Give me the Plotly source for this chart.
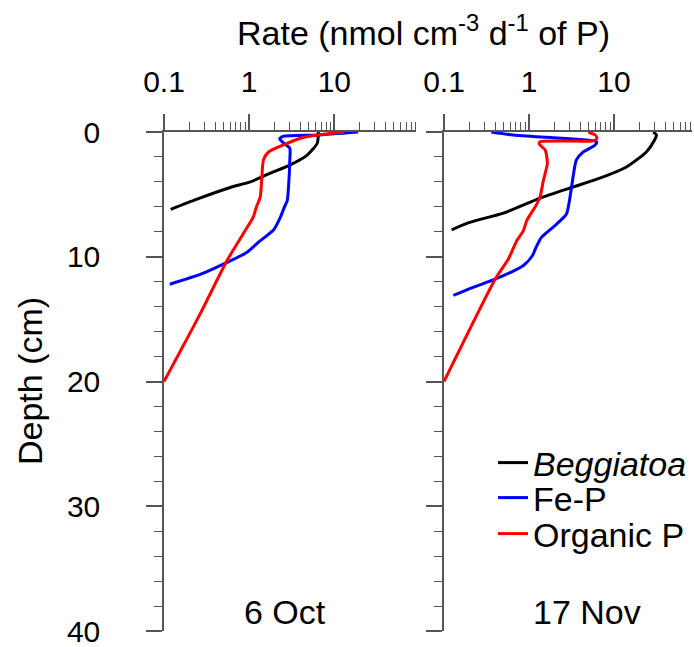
import math
import plotly.graph_objects as go

# ---------------- data ----------------
# 6 Oct panel
oct_beg_depth = [0, 0.9, 1.85, 2.65, 3.3, 4.0, 4.45, 5.4, 6.2]
oct_beg_rate = [6.5, 6.3, 4.8, 3.0, 1.77, 1.03, 0.60, 0.24, 0.12]

oct_fep_depth = [0, 0.24, 0.35, 0.55, 0.85, 1.3, 2.25, 4.4, 5.5, 6.0, 6.9, 7.85, 8.8, 9.65, 10.45, 11.4, 12.2]
oct_fep_rate = [19, 6.3, 2.5, 2.28, 2.5, 3.0, 3.0, 2.9, 2.8, 2.6, 2.3, 1.93, 1.3, 0.94, 0.55, 0.27, 0.117]

oct_org_depth = [0, 0.3, 0.5, 1.05, 1.6, 2.25, 3.6, 5.2, 6.05, 6.8, 7.9, 10.3, 14.6, 20]
oct_org_rate = [13, 5.5, 4.0, 2.5, 1.69, 1.47, 1.41, 1.35, 1.21, 1.12, 0.9, 0.55, 0.265, 0.1]

# 17 Nov panel
nov_beg_depth = [0, 0.24, 0.64, 1.6, 2.8, 3.7, 4.5, 5.3, 6.5, 7.25, 7.84]
nov_beg_rate = [29, 31.6, 30, 24, 14, 6.8, 3.0, 1.35, 0.5, 0.2, 0.123]

nov_fep_depth = [0, 0.24, 0.43, 0.6, 0.78, 1.05, 1.6, 2.25, 3.6, 5.45, 6.6, 7.4, 8.45, 9.3, 9.9, 10.7, 11.8, 12.45, 13.1]
nov_fep_rate = [0.36, 0.65, 1.62, 4.0, 6.25, 6.0, 4.35, 3.6, 3.3, 3.0, 2.75, 2.1, 1.4, 1.2, 1.1, 0.86, 0.4, 0.22, 0.129]

nov_org_depth = [0, 0.24, 0.5, 0.7, 0.72, 0.78, 0.96, 1.45, 2.0, 2.6, 3.85, 5.2, 5.8, 7.1, 7.9, 8.7, 10.2, 11.8, 20]
nov_org_rate = [5.0, 6.0, 6.3, 5.7, 2.5, 1.35, 1.32, 1.55, 1.62, 1.64, 1.48, 1.35, 1.23, 0.94, 0.86, 0.72, 0.57, 0.4, 0.1]

series_names = ["<i>Beggiatoa</i>", "Fe-P", "Organic P"]
series_colors = ["#000000", "#0000ff", "#ff0000"]

x_major = [0.1, 1, 10]
x_major_text = ["0.1", "1", "10"]
x_minor = [m * d for d in (0.1, 1, 10) for m in range(2, 10)]

panel_labels = ["6 Oct", "17 Nov"]

# ---------------- figure ----------------
W, H = 694, 647
FONT = "Liberation Sans, Arial, sans-serif"
AX = "#555555"
TXT = 34

fig = go.Figure()

legend_ids = ["legend", "legend2", "legend3"]
panels = [
    ("x", "y", [(oct_beg_depth, oct_beg_rate), (oct_fep_depth, oct_fep_rate), (oct_org_depth, oct_org_rate)], False),
    ("x2", "y2", [(nov_beg_depth, nov_beg_rate), (nov_fep_depth, nov_fep_rate), (nov_org_depth, nov_org_rate)], True),
]
for xa, ya, series, show in panels:
    for (d, r), name, col, lg in zip(series, series_names, series_colors, legend_ids):
        fig.add_trace(go.Scatter(
            x=r, y=d, mode="lines", name=name, legendgroup=name,
            showlegend=show, legend=lg, xaxis=xa, yaxis=ya,
            line=dict(color=col, width=3, shape="spline", smoothing=0.6),
        ))

def px_x(p):
    return p / W

def px_y(p):
    return 1 - p / H

ydom = [px_y(631), px_y(132)]

common_x = dict(
    type="log", side="top", showline=True, linecolor=AX, linewidth=1.5,
    ticks="outside", ticklen=16, tickwidth=1.5, tickcolor=AX,
    tickmode="array", tickvals=x_major, ticktext=x_major_text,
    minor=dict(tickmode="array", tickvals=x_minor, ticks="outside", ticklen=8, tickwidth=1.2, tickcolor=AX),
    showgrid=False, zeroline=False, automargin=False,
    tickfont=dict(family=FONT, size=30, color="black"),
    ticklabelstandoff=10, ticklabeloverflow="allow",
)
common_y = dict(
    range=[40, 0], domain=ydom, showline=True, linecolor=AX, linewidth=1.5,
    ticks="outside", ticklen=16, tickwidth=1.5, tickcolor=AX,
    tick0=0, dtick=10, automargin=False, ticklabeloverflow="allow",
    minor=dict(dtick=2, ticks="outside", ticklen=8, tickwidth=1.2, tickcolor=AX),
    showgrid=False, zeroline=False,
    tickfont=dict(family=FONT, size=30, color="black"),
)

leg_common = dict(xanchor="left", yanchor="middle", bgcolor="rgba(0,0,0,0)",
                  font=dict(family=FONT, size=TXT, color="black"), itemwidth=30)

fig.update_layout(
    width=W, height=H,
    margin=dict(l=0, r=0, t=0, b=0),
    paper_bgcolor="white", plot_bgcolor="white",
    font=dict(family=FONT, size=TXT, color="black"),
    xaxis=dict(common_x, domain=[px_x(164), px_x(416)], range=[-1, math.log10(91)], anchor="y"),
    xaxis2=dict(common_x, domain=[px_x(444), px_x(692)], range=[-1, -1 + 248 / 85], anchor="y2"),
    yaxis=dict(common_y, anchor="x", ticklabelstandoff=40),
    yaxis2=dict(common_y, anchor="x2", showticklabels=False),
    legend=dict(leg_common, x=px_x(493), y=px_y(463)),
    legend2=dict(leg_common, x=px_x(493), y=px_y(498)),
    legend3=dict(leg_common, x=px_x(493), y=px_y(534)),
    showlegend=True,
)

ann = dict(xref="paper", yref="paper", showarrow=False, xanchor="center", yanchor="middle",
           font=dict(family=FONT, size=TXT, color="black"))
fig.add_annotation(ann, text="Rate (nmol cm<sup>-3</sup> d<sup>-1</sup> of P)", x=px_x(424), y=px_y(30))
fig.add_annotation(ann, text="Depth (cm)", textangle=-90, x=px_x(30), y=px_y(381))
fig.add_annotation(ann, text=panel_labels[0], x=px_x(285), y=px_y(612))
fig.add_annotation(ann, text=panel_labels[1], x=px_x(587), y=px_y(612))

fig.write_html("out.html")
